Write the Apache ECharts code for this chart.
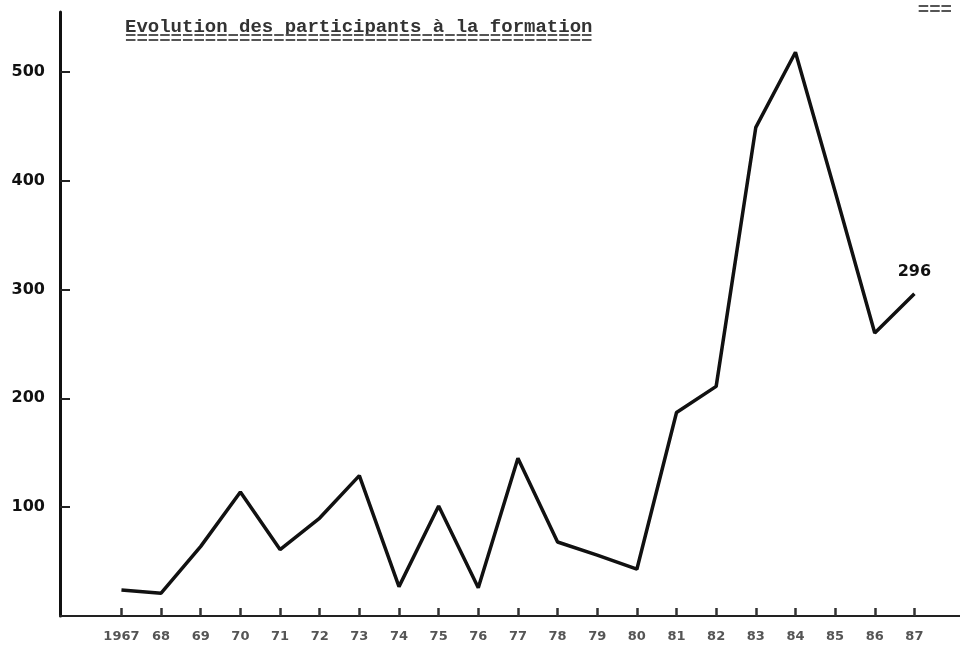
<!DOCTYPE html>
<html>
<head>
<meta charset="utf-8">
<script src="https://cdn.jsdelivr.net/npm/echarts@6/dist/echarts.min.js"></script>
<style>html,body{margin:0;padding:0;background:#fff}#c{width:960px;height:648px}</style>
</head>
<body>
<div id="c"></div>
<script>
const years = [1967,1968,1969,1970,1971,1972,1973,1974,1975,1976,1977,1978,1979,1980,1981,1982,1983,1984,1985,1986,1987];
const yearLabels = ["1967","68","69","70","71","72","73","74","75","76","77","78","79","80","81","82","83","84","85","86","87"];
const participants = [24,21,64,114,61,90,129,27,101,26,145,68,56,43,187,211,449,518,390,260,296];
const yTicks = [100,200,300,400,500];
const titleText = "Evolution des participants à la formation";

const chart = echarts.init(document.getElementById('c'), null, {renderer:'canvas'});
const data = years.map((y,i) => [y, participants[i]]);
const last = years.length - 1;
chart.setOption({
  backgroundColor:'#fff',
  animation:false,
  title:[
    {text:titleText, subtext:"=".repeat(titleText.length), left:120, top:13, itemGap:-7,
     textStyle:{fontFamily:'Liberation Mono', fontWeight:'bold', fontSize:19, color:'#333'},
     subtextStyle:{fontFamily:'Liberation Mono', fontWeight:'bold', fontSize:19, color:'#555'}},
    {text:"===", right:3, top:-4,
     textStyle:{fontFamily:'Liberation Mono', fontWeight:'bold', fontSize:19, color:'#555'}}
  ],
  grid:{left:60, right:0, top:12, bottom:32, containLabel:false},
  xAxis:{
    type:'value', min:1965.45, max:1988.15,
    axisLine:{show:true, lineStyle:{color:'#222', width:2}},
    splitLine:{show:false},
    axisTick:{show:true, inside:true, length:8, customValues:years, lineStyle:{color:'#333', width:2.5}},
    axisLabel:{show:true, customValues:years, margin:14,
      formatter:(v)=>{const i=years.indexOf(Math.round(v)); return i>=0?yearLabels[i]:'';},
      fontFamily:'DejaVu Sans', fontWeight:'bold', fontSize:13, color:'#555'}
  },
  yAxis:{
    type:'value', min:0, max:555,
    axisLine:{show:true, lineStyle:{color:'#111', width:3}},
    splitLine:{show:false},
    axisTick:{show:true, inside:true, length:10, customValues:yTicks, lineStyle:{color:'#222', width:2}},
    axisLabel:{show:true, customValues:yTicks, margin:15,
      fontFamily:'DejaVu Sans', fontWeight:'bold', fontSize:16, color:'#111'}
  },
  series:[{
    type:'line', data:data, symbol:'none', showSymbol:false,
    lineStyle:{color:'#111', width:3.5}, z:5,
    markPoint:{
      symbol:'circle', symbolSize:0, silent:true,
      data:[{coord:[years[last], participants[last]], value:participants[last]}],
      label:{show:true, position:'top', distance:14, formatter:'{c}',
        color:'#111', fontFamily:'DejaVu Sans', fontWeight:'bold', fontSize:16}
    }
  }]
});
</script>
</body>
</html>
